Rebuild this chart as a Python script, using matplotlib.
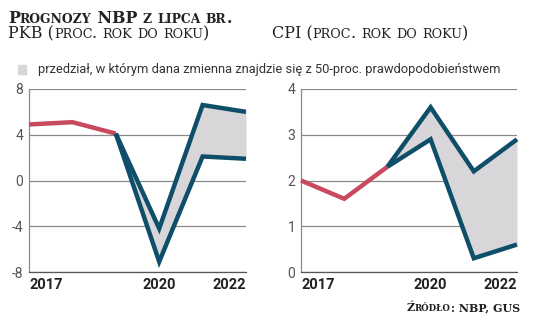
import numpy as np
import matplotlib.pyplot as plt

# lata i dane
years = [2017, 2018, 2019, 2020, 2021, 2022]
pkb_hist = [4.9, 5.1, 4.1]
pkb_upper = [4.1, -4.2, 6.6, 6.0]
pkb_lower = [4.1, -7.1, 2.1, 1.9]
cpi_hist = [2.0, 1.6, 2.3]
cpi_upper = [2.3, 3.6, 2.2, 2.9]
cpi_lower = [2.3, 2.9, 0.3, 0.6]
pkb_ticks = [-8, -4, 0, 4, 8]
cpi_ticks = [0, 1, 2, 3, 4]
year_labels = [2017, 2020, 2022]

RED = '#c9495f'
BLUE = '#0e4e69'
FILL = '#d9d6da'
GRID = '#8a8a8a'

plt.rcParams['font.family'] = ['Roboto', 'DejaVu Sans']

W, H = 536, 324
fig = plt.figure(figsize=(W / 100, H / 100), dpi=100)
renderer = fig.canvas.get_renderer()


def small_caps(x, y, text, size, small=0.72, ha='left', **kw):
    # male litery jako mniejsze kapitaliki, skladane kawalkami
    chunks = []
    for ch in text:
        big = not ch.islower()
        if chunks and chunks[-1][1] == big:
            chunks[-1][0] += ch
        else:
            chunks.append([ch, big])
    parts = []
    cx = x
    for s, big in chunks:
        t = fig.text(cx / W, 1 - y / H, s.upper(),
                     fontsize=size if big else size * small, va='baseline', **kw)
        cx += t.get_window_extent(renderer).width
        parts.append(t)
    if ha == 'right':
        shift = cx - x
        for t in parts:
            t.set_x(t.get_position()[0] - shift / W)


def panel(rect, hist, upper, lower, ticks):
    ax = fig.add_axes(rect)
    fut = years[2:]
    ax.fill_between(fut, lower, upper, color=FILL, lw=0, zorder=1)
    ax.plot(years[:3], hist, color=RED, lw=3.2, zorder=3,
            solid_capstyle='butt', solid_joinstyle='miter', clip_on=False)
    for s in (upper, lower):
        ax.plot(fut, s, color=BLUE, lw=3.2, zorder=4,
                solid_capstyle='butt', solid_joinstyle='miter', clip_on=False)
    ax.set_xlim(years[0], years[-1])
    ax.set_ylim(ticks[0], ticks[-1])
    ax.set_yticks(ticks)
    ax.set_yticklabels([str(t) for t in ticks])
    ax.grid(axis='y', color=GRID, lw=0.9)
    ax.set_axisbelow(True)
    for side in ('top', 'right'):
        ax.spines[side].set_visible(False)
    ax.spines['left'].set_color(GRID)
    ax.spines['left'].set_linewidth(0.9)
    ax.spines['bottom'].set_color('#555555')
    ax.spines['bottom'].set_linewidth(0.9)
    ax.tick_params(axis='y', length=0, pad=4, labelsize=10, labelcolor='#555555')
    ax.tick_params(axis='x', length=0, pad=4, labelsize=10.5, labelcolor='#222222')
    ax.set_xticks(year_labels)
    ax.set_xticklabels([str(y) for y in year_labels], fontweight='bold')
    labs = ax.get_xticklabels()
    labs[0].set_ha('left')
    labs[-1].set_ha('right')
    return ax


panel([29 / W, 1 - 272 / H, 217 / W, 183 / H],
      pkb_hist, pkb_upper, pkb_lower, pkb_ticks)
panel([301 / W, 1 - 272 / H, 216 / W, 183 / H],
      cpi_hist, cpi_upper, cpi_lower, cpi_ticks)

# naglowki
serif = ['DejaVu Serif']
small_caps(8, 23, 'Prognozy NBP z lipca br.', 11.4, small=0.78,
           family=serif, fontweight='bold', color='#222222')
small_caps(8, 38.5, 'PKB (proc. rok do roku)', 11.5, small=0.8,
           family=serif, color='#222222')
small_caps(272, 38.5, 'CPI (proc. rok do roku)', 11.5, small=0.8,
           family=serif, color='#222222')

# legenda
fig.patches.append(plt.Rectangle((18 / W, 1 - 74 / H), 8 / W, 9 / H,
                                 transform=fig.transFigure, color=FILL))
leg = fig.text(38 / W, 1 - 69 / H,
               'przedział, w którym dana zmienna znajdzie się z 50-proc. prawdopodobieństwem',
               fontsize=10, va='center', color='#333333')
# dopasowanie szerokosci napisu do 464 px
leg.set_fontsize(10 * 464 / leg.get_window_extent(renderer).width)

# zrodlo
small_caps(520, 311, 'Źródło: NBP, GUS', 8, small=0.78, ha='right',
           family=serif, fontweight='bold', color='#222222')

fig.savefig('out.png', dpi=100)
